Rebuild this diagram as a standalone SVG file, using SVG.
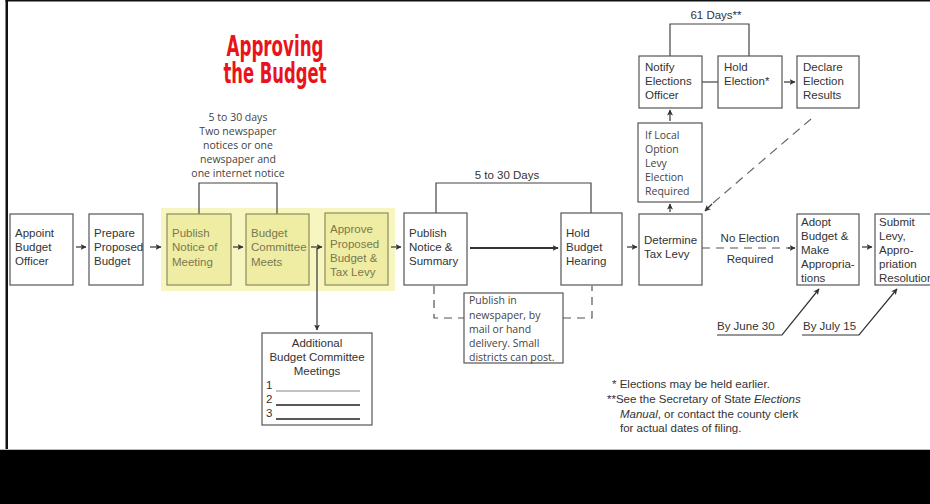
<svg xmlns="http://www.w3.org/2000/svg" width="930" height="504" viewBox="0 0 930 504">
<style>
.bx{fill:#fff;stroke:#555;stroke-width:1.2}
.yb{fill:#efeda3;stroke:#8c8c5a;stroke-width:1.2}
.t{font-family:"Liberation Sans",Arial,sans-serif;font-size:11.5px;fill:#333}
.ty{font-family:"Liberation Sans",Arial,sans-serif;font-size:11.5px;fill:#7a7850}
.m{font-family:"Open Sans","Liberation Sans",sans-serif;font-size:10.5px;fill:#444}
.ln{fill:none;stroke:#444;stroke-width:1.2}
.ds{fill:none;stroke:#555;stroke-width:1.2;stroke-dasharray:8,6}
.ar{fill:none;stroke:#333;stroke-width:1.2;marker-end:url(#ah)}
.ttl{font-family:"DejaVu Sans Condensed","Liberation Sans",sans-serif;font-weight:bold;font-size:28px;fill:#e8141b}
</style>
<defs>
<marker id="ah" markerWidth="7" markerHeight="7" refX="5.5" refY="3.5" orient="auto" markerUnits="userSpaceOnUse">
<path d="M0,0.5 L6,3.5 L0,6.5 L1.5,3.5 Z" fill="#333"/>
</marker>
</defs>
<rect x="0" y="0" width="930" height="504" fill="#fff"/>
<rect x="5.5" y="0" width="2.5" height="452" fill="#111"/>
<rect x="5.5" y="0" width="924.5" height="1.5" fill="#111"/>
<rect x="0" y="449" width="930" height="1.5" fill="#bbb"/>
<rect x="0" y="450" width="930" height="54" fill="#000"/>

<g id="title">
<text class="ttl" x="275" y="56" text-anchor="middle" textLength="97" lengthAdjust="spacingAndGlyphs">Approving</text>
<text class="ttl" x="275" y="83" text-anchor="middle" textLength="103" lengthAdjust="spacingAndGlyphs">the Budget</text>
</g>

<rect x="161" y="208" width="234" height="83" fill="#f8f6c0"/>

<g id="connectors">
<path class="ar" d="M76,247 H86"/>
<path class="ar" d="M150,247 H161"/>
<path class="ar" d="M233,247 H243"/>
<path class="ar" d="M311,247 H322"/>
<path class="ar" d="M391,247 H401"/>
<path class="ar" d="M317,248 V330"/>
<path d="M199,214 V183 H277 V214" class="ln"/>
<path d="M436,213 V183 H591 V213" class="ln"/>
<path d="M470,248 H558" fill="none" stroke="#333" stroke-width="2" marker-end="url(#ah)"/>
<path class="ds" d="M434,286 V318 H464"/>
<path class="ds" d="M563,318 H592 V286"/>
<path class="ar" d="M627,247 H637"/>
<path class="ds" d="M702,248 H790"/>
<path class="ar" d="M788,248 H795"/>
<path class="ar" d="M862,247 H872"/>
<path class="ar" d="M670,212 V204"/>
<path class="ar" d="M670,121 V110"/>
<path d="M670,56 V24 H749 V56" class="ln"/>
<path d="M702,82 H718" class="ln"/>
<path class="ar" d="M784,82 H795"/>
<path d="M811,119 L706,209" fill="none" stroke="#666" stroke-width="1.2" stroke-dasharray="9,6"/>
<path class="ar" d="M712,204 L705,211"/>
<path d="M717,335 H782 L819,289" class="ar"/>
<path d="M802,335 H859 L897,289" class="ar"/>
</g>

<g id="n-appoint"><rect class="bx" x="10" y="214" width="63" height="71"/>
<text class="t" x="15"><tspan x="15" y="237">Appoint</tspan><tspan x="15" y="251">Budget</tspan><tspan x="15" y="265">Officer</tspan></text></g>
<g id="n-prepare"><rect class="bx" x="89" y="214" width="54" height="71"/>
<text class="t"><tspan x="94" y="237">Prepare</tspan><tspan x="94" y="251">Proposed</tspan><tspan x="94" y="265">Budget</tspan></text></g>
<g id="n-publish-meeting"><rect class="yb" x="167" y="214" width="64" height="71"/>
<text class="ty"><tspan x="172" y="237">Publish</tspan><tspan x="172" y="251">Notice of</tspan><tspan x="172" y="266">Meeting</tspan></text></g>
<g id="n-committee"><rect class="yb" x="246" y="214" width="63" height="71"/>
<text class="ty"><tspan x="251" y="237">Budget</tspan><tspan x="251" y="251">Committee</tspan><tspan x="251" y="266">Meets</tspan></text></g>
<g id="n-approve"><rect class="yb" x="325" y="213" width="63" height="72"/>
<text class="ty"><tspan x="330" y="233">Approve</tspan><tspan x="330" y="248">Proposed</tspan><tspan x="330" y="262">Budget &amp;</tspan><tspan x="330" y="276">Tax Levy</tspan></text></g>
<g id="n-additional"><rect class="bx" x="262" y="333" width="110" height="92"/>
<text class="t" text-anchor="middle"><tspan x="317" y="347">Additional</tspan><tspan x="317" y="361">Budget Committee</tspan><tspan x="317" y="375">Meetings</tspan></text>
<text class="t"><tspan x="266" y="389">1</tspan><tspan x="266" y="403">2</tspan><tspan x="266" y="417">3</tspan></text>
<path d="M276,391 H360" stroke="#888" stroke-width="1.2"/>
<path d="M276,405 H360 M276,419 H360" stroke="#222" stroke-width="1.6"/></g>
<g id="n-notice-days"><text class="m" text-anchor="middle"><tspan x="238" y="121">5 to 30 days</tspan><tspan x="238" y="135">Two newspaper</tspan><tspan x="238" y="149">notices or one</tspan><tspan x="238" y="163">newspaper and</tspan><tspan x="238" y="177">one internet notice</tspan></text></g>
<g id="n-publish-summary"><rect class="bx" x="404" y="213" width="63" height="72"/>
<text class="t"><tspan x="409" y="237">Publish</tspan><tspan x="409" y="251">Notice &amp;</tspan><tspan x="409" y="265">Summary</tspan></text></g>
<text class="t" x="507" y="179" text-anchor="middle">5 to 30 Days</text>
<g id="n-hold-hearing"><rect class="bx" x="561" y="213" width="61" height="72"/>
<text class="t"><tspan x="566" y="237">Hold</tspan><tspan x="566" y="251">Budget</tspan><tspan x="566" y="265">Hearing</tspan></text></g>
<g id="n-publish-note"><rect class="bx" x="464" y="293" width="99" height="70"/>
<text class="m"><tspan x="469" y="304">Publish in</tspan><tspan x="469" y="319">newspaper, by</tspan><tspan x="469" y="333">mail or hand</tspan><tspan x="469" y="347">delivery. Small</tspan><tspan x="469" y="361">districts can post.</tspan></text></g>
<g id="n-determine"><rect class="bx" x="639" y="214" width="63" height="71"/>
<text class="t"><tspan x="644" y="244">Determine</tspan><tspan x="644" y="258">Tax Levy</tspan></text></g>
<g id="n-iflocal"><rect class="bx" x="638" y="123" width="64" height="79"/>
<text class="m"><tspan x="645" y="139">If Local</tspan><tspan x="645" y="153">Option</tspan><tspan x="645" y="167">Levy</tspan><tspan x="645" y="181">Election</tspan><tspan x="645" y="195">Required</tspan></text></g>
<g id="n-notify"><rect class="bx" x="639" y="56" width="63" height="52"/>
<text class="t"><tspan x="645" y="71">Notify</tspan><tspan x="645" y="85">Elections</tspan><tspan x="645" y="99">Officer</tspan></text></g>
<text class="t" x="716" y="19" text-anchor="middle">61 Days**</text>
<g id="n-hold-election"><rect class="bx" x="718" y="56" width="64" height="52"/>
<text class="t"><tspan x="724" y="71">Hold</tspan><tspan x="724" y="85">Election*</tspan></text></g>
<g id="n-declare"><rect class="bx" x="797" y="56" width="62" height="52"/>
<text class="t"><tspan x="803" y="71">Declare</tspan><tspan x="803" y="85">Election</tspan><tspan x="803" y="99">Results</tspan></text></g>
<g id="n-noelection"><text class="t" text-anchor="middle"><tspan x="750" y="242">No Election</tspan><tspan x="750" y="263">Required</tspan></text></g>
<g id="n-adopt"><rect class="bx" x="797" y="214" width="62" height="71"/>
<text class="t"><tspan x="801" y="226">Adopt</tspan><tspan x="801" y="240">Budget &amp;</tspan><tspan x="801" y="254">Make</tspan><tspan x="801" y="268">Appropria-</tspan><tspan x="801" y="282">tions</tspan></text></g>
<g id="n-submit"><rect class="bx" x="875" y="214" width="70" height="71"/>
<text class="t"><tspan x="879" y="226">Submit</tspan><tspan x="879" y="240">Levy,</tspan><tspan x="879" y="254">Appro-</tspan><tspan x="879" y="268">priation</tspan><tspan x="879" y="282">Resolution</tspan></text></g>
<text class="t" x="717" y="330">By June 30</text>
<text class="t" x="803" y="330">By July 15</text>
<g id="n-footnotes"><text class="t" font-size="12">
<tspan x="612" y="388">* Elections may be held earlier.</tspan>
<tspan x="607" y="403">**See the Secretary of State <tspan font-style="italic">Elections</tspan></tspan>
<tspan x="620" y="418"><tspan font-style="italic">Manual</tspan>, or contact the county clerk</tspan>
<tspan x="620" y="432">for actual dates of filing.</tspan></text></g>
</svg>
